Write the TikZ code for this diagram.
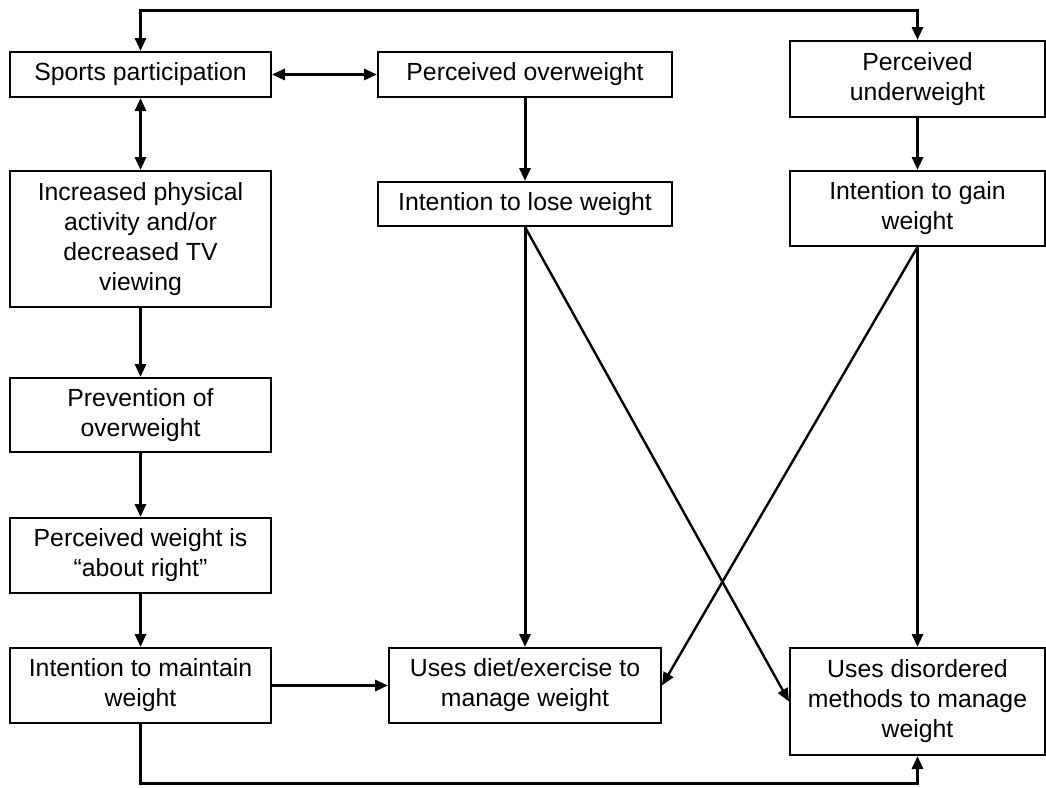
\documentclass[tikz,border=0pt]{standalone}
\usepackage{fontspec}
\setmainfont{Liberation Sans}
\usetikzlibrary{arrows.meta}
\begin{document}
\begin{tikzpicture}[x=1pt,y=-1pt,
  box/.style={draw,line width=2pt,align=center,inner sep=0pt,font=\fontsize{24.8}{30}\selectfont},
  tip/.tip={Triangle[length=13pt,width=11pt]},
  arr/.style={line width=3pt,-tip},
  darr/.style={line width=3pt,tip-tip},
  diag/.style={line width=2.4pt,-tip}]
\useasboundingbox (0,0) rectangle (1046,787);
% left column
\node[box,minimum width=261pt,minimum height=45pt]  (sp) at (140.5,74.5) {Sports participation};
\node[box,minimum width=261pt,minimum height=136pt] (ip) at (140.5,239) {Increased physical\\activity and/or\\decreased TV\\viewing};
\node[box,minimum width=261pt,minimum height=74pt]  (pv) at (140.5,415) {Prevention of\\overweight};
\node[box,minimum width=261pt,minimum height=75pt]  (ar) at (140.5,555.5) {Perceived weight is\\“about right”};
\node[box,minimum width=261pt,minimum height=75pt]  (mt) at (140.5,685.5) {Intention to maintain\\weight};
% middle column
\node[box,minimum width=294pt,minimum height=45pt]  (ow) at (525,74.5) {Perceived overweight};
\node[box,minimum width=294pt,minimum height=44pt]  (lw) at (525,204) {Intention to lose weight};
\node[box,minimum width=272pt,minimum height=75pt]  (dt) at (525,685.5) {Uses diet/exercise to\\manage weight};
% right column
\node[box,minimum width=255pt,minimum height=76pt]  (uw) at (917.5,79) {Perceived\\underweight};
\node[box,minimum width=255pt,minimum height=75pt]  (gw) at (917.5,208.5) {Intention to gain\\weight};
\node[box,minimum width=255pt,minimum height=107pt] (ds) at (917.5,701.5) {Uses disordered\\methods to manage\\weight};
% helper coordinates
\coordinate (top) at (500,10);
\coordinate (bot) at (500,783);
% connectors
\draw[darr] (sp.north) |- (top) -| (uw.north);
\draw[darr] (sp.east) -- (ow.west);
\draw[darr] (sp.south) -- (ip.north);
\draw[arr] (ip.south) -- (pv.north);
\draw[arr] (pv.south) -- (ar.north);
\draw[arr] (ar.south) -- (mt.north);
\draw[arr] (mt.east) -- (dt.west);
\draw[arr] (mt.south) |- (bot) -| (ds.south);
\draw[arr] (ow.south) -- (lw.north);
\draw[arr] (lw.south) -- (dt.north);
\draw[arr] (uw.south) -- (gw.north);
\draw[arr] (gw.south) -- (ds.north);
\draw[diag] (lw.south) -- (ds.west);
\draw[diag] (gw.south) -- (dt.east);
\end{tikzpicture}
\end{document}
